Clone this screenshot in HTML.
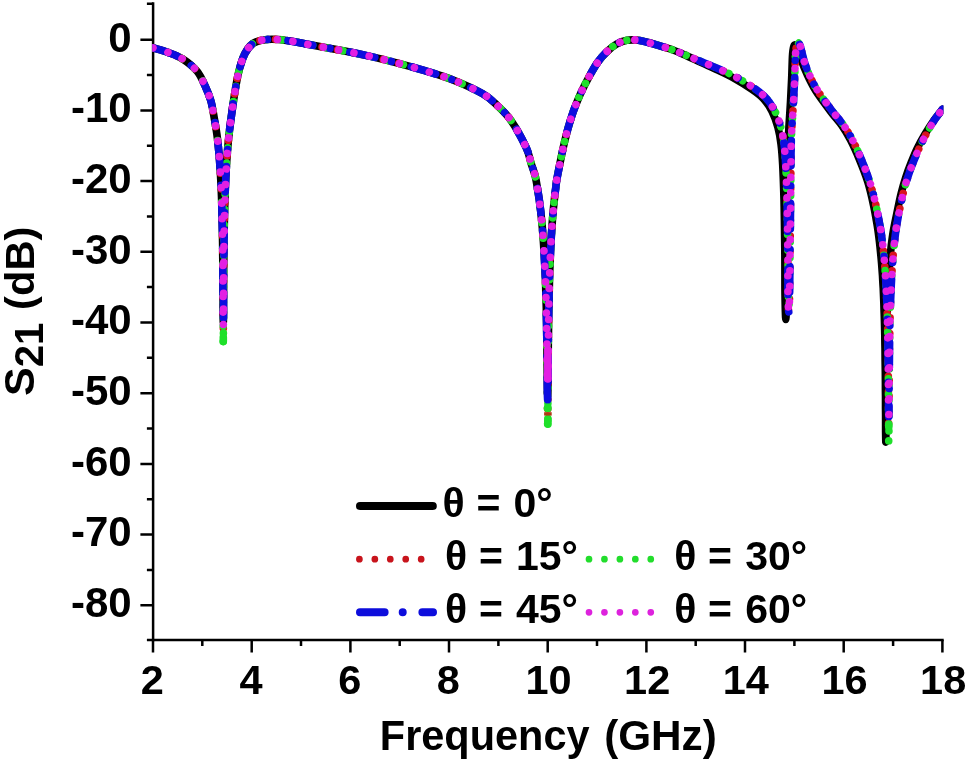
<!DOCTYPE html>
<html lang="en"><head><meta charset="utf-8"><title>S21 vs Frequency</title>
<style>html,body{margin:0;padding:0;background:#fff}svg{display:block}</style></head>
<body>
<svg width="967" height="762" viewBox="0 0 967 762">
<defs><clipPath id="plot"><rect x="152.2" y="0" width="791.2" height="640"/></clipPath></defs>
<rect width="967" height="762" fill="#fff"/>
<g stroke="#000" stroke-width="2.5" fill="none" stroke-linecap="butt">
<path d="M153.1 2.2V641.2"/>
<path d="M146.9 640H943.7"/>
<path d="M140.4 39.7H153M140.4 110.4H153M140.4 181.1H153M140.4 251.8H153M140.4 322.5H153M140.4 393.2H153M140.4 463.9H153M140.4 534.6H153M140.4 605.3H153M146.9 3.8H153M146.9 75.0H153M146.9 145.8H153M146.9 216.4H153M146.9 287.1H153M146.9 357.8H153M146.9 428.5H153M146.9 499.2H153M146.9 569.9H153M153.0 640V652.5M251.7 640V652.5M350.4 640V652.5M449.0 640V652.5M547.7 640V652.5M646.4 640V652.5M745.0 640V652.5M843.7 640V652.5M942.4 640V652.5M202.3 640V646M301.0 640V646M399.7 640V646M498.4 640V646M597.0 640V646M695.7 640V646M794.4 640V646M893.1 640V646"/>
</g>
<g font-family="'Liberation Sans', Arial, Helvetica, sans-serif" font-weight="700" font-size="41" fill="#000">
<text x="131.6" y="51.5" text-anchor="end" font-size="42">0</text>
<text x="131.6" y="122.2" text-anchor="end" font-size="42">-10</text>
<text x="131.6" y="192.9" text-anchor="end" font-size="42">-20</text>
<text x="131.6" y="263.6" text-anchor="end" font-size="42">-30</text>
<text x="131.6" y="334.3" text-anchor="end" font-size="42">-40</text>
<text x="131.6" y="405.0" text-anchor="end" font-size="42">-50</text>
<text x="131.6" y="475.7" text-anchor="end" font-size="42">-60</text>
<text x="131.6" y="546.4" text-anchor="end" font-size="42">-70</text>
<text x="131.6" y="617.1" text-anchor="end" font-size="42">-80</text>
<text x="152.4" y="693.8" text-anchor="middle" font-size="41.5">2</text>
<text x="251.1" y="693.8" text-anchor="middle" font-size="41.5">4</text>
<text x="349.8" y="693.8" text-anchor="middle" font-size="41.5">6</text>
<text x="448.4" y="693.8" text-anchor="middle" font-size="41.5">8</text>
<text x="548.5" y="693.8" text-anchor="middle" font-size="41.5">10</text>
<text x="647.2" y="693.8" text-anchor="middle" font-size="41.5">12</text>
<text x="745.8" y="693.8" text-anchor="middle" font-size="41.5">14</text>
<text x="844.5" y="693.8" text-anchor="middle" font-size="41.5">16</text>
<text x="943.2" y="693.8" text-anchor="middle" font-size="41.5">18</text>
<text y="750.2" font-size="43"><tspan x="379.8" textLength="209.8" lengthAdjust="spacingAndGlyphs">Frequency</tspan> <tspan x="604.2" textLength="112.6" lengthAdjust="spacingAndGlyphs">(GHz)</tspan></text>
<text transform="translate(34 396) rotate(-90)" font-size="40"><tspan x="0" y="0" font-size="43">S</tspan><tspan x="28.7" y="9">21</tspan> <tspan x="86" y="0" textLength="83.5" lengthAdjust="spacingAndGlyphs">(dB)</tspan></text>
</g>
<g fill="none" stroke-width="7.6" stroke-linejoin="round" stroke-linecap="round" clip-path="url(#plot)">
<path id="c0" d="M153.0 47.9C155.5 48.7 163.2 50.6 168.2 52.5C173.1 54.4 177.9 55.9 182.7 59.0C187.5 62.1 193.4 66.8 197.2 71.4C201.0 76.1 203.3 82.1 205.5 86.9C207.7 91.7 209.3 95.8 210.6 100.0C211.9 104.2 212.1 106.3 213.2 112.0C214.2 117.7 216.1 128.7 216.9 134.4C217.7 140.1 217.9 142.4 218.3 146.4C218.7 150.4 219.1 154.4 219.4 158.4C219.7 162.4 220.0 166.4 220.2 170.4C220.5 174.4 220.7 178.4 220.9 182.4C221.1 186.4 221.3 190.4 221.4 194.4C221.6 198.4 221.7 202.4 221.8 206.4C221.9 210.4 222.1 214.4 222.1 218.4C222.2 222.4 222.3 226.4 222.4 230.4C222.5 234.4 222.5 238.4 222.6 242.4C222.7 246.4 222.7 250.4 222.7 254.4C222.8 258.4 222.8 262.4 222.9 266.4C222.9 270.4 222.9 274.4 223.0 278.4C223.0 282.4 223.0 286.4 223.0 290.4C223.1 294.4 223.1 298.4 223.1 302.4C223.1 306.4 223.1 311.1 223.1 314.4C223.2 317.7 223.2 321.7 223.3 322.0C223.4 322.3 223.4 319.1 223.5 316.1C223.5 313.1 223.5 308.1 223.5 304.1C223.5 300.1 223.6 296.1 223.6 292.1C223.6 288.1 223.6 284.1 223.6 280.1C223.7 276.1 223.7 272.1 223.7 268.1C223.8 264.1 223.8 260.1 223.9 256.1C223.9 252.1 223.9 248.1 224.0 244.1C224.0 240.1 224.1 236.1 224.2 232.1C224.2 228.1 224.3 224.1 224.4 220.1C224.5 216.1 224.6 212.1 224.7 208.1C224.8 204.1 224.9 200.1 225.1 196.1C225.2 192.1 225.3 188.1 225.5 184.1C225.7 180.1 225.9 176.1 226.1 172.1C226.3 168.1 226.5 164.1 226.8 160.1C227.1 156.1 227.4 152.1 227.7 148.1C228.1 144.1 228.4 140.1 228.9 136.1C229.3 132.1 229.4 130.9 230.3 124.1C231.2 117.3 233.0 103.7 234.4 95.1C235.8 86.5 236.9 79.3 238.6 72.4C240.3 65.5 242.4 58.6 244.8 53.8C247.2 49.0 249.9 45.7 253.0 43.4C256.1 41.1 259.2 40.5 263.4 39.9C267.6 39.2 272.1 39.1 278.0 39.5C283.9 39.9 293.4 41.5 298.6 42.4C303.8 43.2 302.4 43.4 309.0 44.6C315.6 45.8 328.2 48.0 337.9 49.8C347.5 51.6 357.2 53.5 366.9 55.6C376.5 57.7 386.1 60.1 395.8 62.6C405.5 65.1 415.2 67.8 424.8 70.7C434.4 73.6 444.1 76.4 453.7 80.2C463.3 84.0 475.4 89.6 482.7 93.8C489.9 98.0 492.4 100.8 497.2 105.4C502.0 110.0 506.8 114.3 511.6 121.3C516.4 128.3 522.8 140.3 526.1 147.4C529.4 154.5 529.7 158.8 531.2 163.6C532.7 168.4 534.2 171.9 535.2 176.0C536.2 180.1 536.8 184.0 537.4 188.0C538.1 192.0 538.7 196.0 539.3 200.0C539.8 204.0 540.3 208.0 540.8 212.0C541.2 216.0 541.6 220.0 542.0 224.0C542.4 228.0 542.7 232.0 543.0 236.0C543.3 240.0 543.6 244.0 543.8 248.0C544.1 252.0 544.3 256.0 544.5 260.0C544.7 264.0 544.9 268.0 545.1 272.0C545.3 276.0 545.4 280.0 545.6 284.0C545.7 288.0 545.8 292.0 545.9 296.0C546.1 300.0 546.2 304.0 546.3 308.0C546.4 312.0 546.4 316.0 546.5 320.0C546.6 324.0 546.7 328.0 546.7 332.0C546.8 336.0 546.8 340.0 546.9 344.0C547.0 348.0 547.0 352.0 547.0 356.0C547.1 360.0 547.1 364.0 547.2 368.0C547.2 372.0 547.2 375.3 547.3 380.0C547.3 384.7 547.6 395.9 547.7 396.0C547.8 396.1 548.0 385.0 548.0 380.4C548.1 375.8 548.1 372.4 548.1 368.4C548.1 364.4 548.2 360.4 548.2 356.4C548.2 352.4 548.3 348.4 548.3 344.4C548.4 340.4 548.4 336.4 548.5 332.4C548.5 328.4 548.6 324.4 548.6 320.4C548.7 316.4 548.7 312.4 548.8 308.4C548.9 304.4 549.0 300.4 549.1 296.4C549.2 292.4 549.3 288.4 549.4 284.4C549.5 280.4 549.6 276.4 549.7 272.4C549.9 268.4 550.0 264.4 550.2 260.4C550.3 256.4 550.5 252.4 550.7 248.4C550.9 244.4 551.1 240.4 551.3 236.4C551.6 232.4 551.8 228.4 552.1 224.4C552.4 220.4 552.7 216.4 553.1 212.4C553.4 208.4 553.8 204.4 554.3 200.4C554.7 196.4 555.1 192.4 555.7 188.4C556.2 184.4 555.9 184.2 557.4 176.4C558.9 168.6 562.2 151.7 564.6 141.6C567.0 131.5 569.2 123.6 571.9 115.6C574.5 107.6 577.6 100.3 580.5 93.8C583.4 87.3 586.3 81.8 589.2 76.5C592.1 71.2 595.0 66.1 597.9 62.0C600.8 57.9 603.5 54.9 606.6 51.9C609.7 48.9 613.3 45.9 616.7 44.0C620.1 42.1 623.3 40.9 626.9 40.3C630.5 39.7 633.6 39.6 638.4 40.3C643.2 41.0 650.5 43.1 655.8 44.6C661.1 46.1 665.5 47.3 670.3 49.0C675.1 50.7 679.4 52.6 684.6 54.8C689.7 57.1 695.7 60.0 701.3 62.5C706.8 65.1 712.2 67.5 717.8 70.2C723.4 72.8 729.1 75.5 734.8 78.7C740.5 81.9 747.2 86.1 752.0 89.4C756.8 92.7 760.1 95.0 763.4 98.6C766.7 102.3 769.6 106.5 772.0 111.3C774.4 116.1 776.4 121.8 777.9 127.3C779.4 132.8 780.2 137.7 781.0 144.0C781.8 150.3 782.2 155.7 782.7 165.0C783.2 174.3 783.6 185.8 784.0 200.0C784.4 214.2 784.6 234.2 784.8 250.0C785.0 265.8 784.8 283.4 785.0 295.0C785.2 306.6 785.5 319.5 785.8 319.5C786.1 319.5 786.4 306.6 786.6 295.0C786.8 283.4 786.9 265.8 787.1 250.0C787.3 234.2 787.5 215.0 787.6 200.0C787.8 185.0 787.9 170.8 788.0 160.0C788.1 149.2 788.1 145.5 788.5 135.5C788.9 125.5 790.1 110.1 790.6 100.0C791.1 89.9 791.5 82.7 791.8 75.0C792.1 67.3 792.2 58.9 792.6 54.0C793.0 49.1 793.5 46.7 794.2 45.4C794.9 44.1 795.9 45.3 796.7 46.4C797.5 47.5 798.0 49.5 798.8 52.0C799.7 54.5 800.5 57.9 801.8 61.5C803.1 65.1 804.4 68.6 806.7 73.5C809.0 78.4 811.8 84.5 815.7 90.7C819.6 96.9 825.9 105.1 830.2 110.9C834.5 116.7 838.3 120.5 841.7 125.3C845.1 130.1 847.5 134.3 850.4 139.8C853.3 145.3 856.1 151.5 859.0 158.5C861.9 165.5 865.3 173.9 867.7 181.6C870.1 189.3 871.8 197.0 873.4 204.7C875.1 212.4 876.6 222.0 877.6 227.8C878.5 233.7 878.7 235.8 879.2 239.8C879.7 243.8 880.1 247.8 880.5 251.8C880.9 255.8 881.3 259.8 881.6 263.8C881.9 267.8 882.2 271.8 882.5 275.8C882.7 279.8 882.9 283.8 883.2 287.8C883.4 291.8 883.5 295.8 883.7 299.8C883.9 303.8 884.0 307.8 884.1 311.8C884.3 315.8 884.4 319.8 884.5 323.8C884.6 327.8 884.7 331.8 884.8 335.8C884.8 339.8 884.9 343.8 885.0 347.8C885.0 351.8 885.1 355.8 885.1 359.8C885.2 363.8 885.2 367.8 885.3 371.8C885.3 375.8 885.4 379.8 885.4 383.8C885.4 387.8 885.4 391.8 885.5 395.8C885.5 399.8 885.5 403.8 885.5 407.8C885.6 411.8 885.6 415.8 885.6 419.8C885.6 423.8 885.6 428.1 885.6 431.8C885.7 435.5 885.7 441.6 885.8 442.0C885.9 442.4 885.9 437.3 885.9 434.0C886.0 430.7 886.0 426.0 886.0 422.0C886.0 418.0 886.0 414.0 886.0 410.0C886.0 406.0 886.1 402.0 886.1 398.0C886.1 394.0 886.1 390.0 886.2 386.0C886.2 382.0 886.2 378.0 886.2 374.0C886.3 370.0 886.3 366.0 886.4 362.0C886.4 358.0 886.5 354.0 886.5 350.0C886.6 346.0 886.6 342.0 886.7 338.0C886.8 334.0 886.8 330.0 886.9 326.0C887.0 322.0 887.1 318.0 887.2 314.0C887.3 310.0 887.5 306.0 887.6 302.0C887.7 298.0 887.9 294.0 888.1 290.0C888.2 286.0 888.4 282.0 888.7 278.0C888.9 274.0 889.1 270.0 889.4 266.0C889.7 262.0 890.0 258.0 890.4 254.0C890.8 250.0 891.2 246.0 891.7 242.0C892.3 238.0 892.7 234.5 893.5 230.0C894.3 225.5 895.2 221.1 896.5 215.0C897.8 208.9 899.6 199.5 901.2 193.2C902.8 186.8 904.2 182.0 905.9 176.9C907.5 171.8 909.2 167.4 911.1 162.7C913.0 158.0 914.8 153.3 917.1 148.6C919.4 143.9 922.0 139.1 924.8 134.4C927.7 129.7 931.1 124.4 934.0 120.2C937.0 116.0 941.2 111.0 942.6 109.2" stroke="#000"/>
<path id="c15" d="M153.0 47.9C155.5 48.7 163.2 50.6 168.2 52.5C173.1 54.4 177.9 55.9 182.7 59.0C187.5 62.1 193.4 66.8 197.2 71.4C201.0 76.1 203.3 82.1 205.5 86.9C207.7 91.7 209.3 95.8 210.6 100.0C211.9 104.2 212.1 106.3 213.2 112.0C214.2 117.7 216.1 128.7 216.9 134.4C217.7 140.1 217.9 142.4 218.3 146.4C218.7 150.4 219.1 154.4 219.4 158.4C219.7 162.4 220.0 166.4 220.2 170.4C220.5 174.4 220.7 178.4 220.9 182.4C221.1 186.4 221.3 190.4 221.4 194.4C221.6 198.4 221.7 202.4 221.8 206.4C221.9 210.4 222.1 214.4 222.1 218.4C222.2 222.4 222.3 226.4 222.4 230.4C222.5 234.4 222.5 238.4 222.6 242.4C222.7 246.4 222.7 250.4 222.7 254.4C222.8 258.4 222.8 262.4 222.9 266.4C222.9 270.4 222.9 274.4 223.0 278.4C223.0 282.4 223.0 286.4 223.0 290.4C223.1 294.4 223.1 298.4 223.1 302.4C223.1 306.4 223.1 310.0 223.1 314.4C223.2 318.8 223.2 328.7 223.3 329.0C223.4 329.3 223.4 320.2 223.5 316.1C223.5 312.0 223.5 308.1 223.5 304.1C223.5 300.1 223.6 296.1 223.6 292.1C223.6 288.1 223.6 284.1 223.6 280.1C223.7 276.1 223.7 272.1 223.7 268.1C223.8 264.1 223.8 260.1 223.9 256.1C223.9 252.1 223.9 248.1 224.0 244.1C224.0 240.1 224.1 236.1 224.2 232.1C224.2 228.1 224.3 224.1 224.4 220.1C224.5 216.1 224.6 212.1 224.7 208.1C224.8 204.1 224.9 200.1 225.1 196.1C225.2 192.1 225.3 188.1 225.5 184.1C225.7 180.1 225.9 176.1 226.1 172.1C226.3 168.1 226.5 164.1 226.8 160.1C227.1 156.1 227.4 152.1 227.7 148.1C228.1 144.1 228.4 140.1 228.9 136.1C229.3 132.1 229.4 130.9 230.3 124.1C231.2 117.3 233.0 103.7 234.4 95.1C235.8 86.5 236.9 79.3 238.6 72.4C240.3 65.5 242.4 58.6 244.8 53.8C247.2 49.0 249.9 45.7 253.0 43.4C256.1 41.1 259.2 40.5 263.4 39.9C267.6 39.2 272.1 39.1 278.0 39.5C283.9 39.9 293.4 41.5 298.6 42.4C303.8 43.2 302.4 43.4 309.0 44.6C315.6 45.8 328.2 48.0 337.9 49.8C347.5 51.6 357.2 53.5 366.9 55.6C376.5 57.7 386.1 60.1 395.8 62.6C405.5 65.1 415.2 67.8 424.8 70.7C434.4 73.6 444.1 76.4 453.7 80.2C463.3 84.0 475.4 89.6 482.7 93.8C489.9 98.0 492.4 100.8 497.2 105.4C502.0 110.0 506.8 114.3 511.6 121.3C516.4 128.3 522.8 140.3 526.1 147.4C529.4 154.5 529.7 158.8 531.2 163.6C532.7 168.4 534.2 171.9 535.2 176.0C536.2 180.1 536.8 184.0 537.4 188.0C538.1 192.0 538.7 196.0 539.3 200.0C539.8 204.0 540.3 208.0 540.8 212.0C541.2 216.0 541.6 220.0 542.0 224.0C542.4 228.0 542.7 232.0 543.0 236.0C543.3 240.0 543.6 244.0 543.8 248.0C544.1 252.0 544.3 256.0 544.5 260.0C544.7 264.0 544.9 268.0 545.1 272.0C545.3 276.0 545.4 280.0 545.6 284.0C545.7 288.0 545.8 292.0 545.9 296.0C546.1 300.0 546.2 304.0 546.3 308.0C546.4 312.0 546.4 316.0 546.5 320.0C546.6 324.0 546.7 328.0 546.7 332.0C546.8 336.0 546.8 340.0 546.9 344.0C547.0 348.0 547.0 352.0 547.0 356.0C547.1 360.0 547.1 364.0 547.2 368.0C547.2 372.0 547.2 376.0 547.3 380.0C547.3 384.0 547.3 388.0 547.3 392.0C547.4 396.0 547.3 400.7 547.4 404.0C547.5 407.3 547.6 411.9 547.7 412.0C547.8 412.1 547.8 404.4 547.8 404.4C547.8 404.4 547.7 412.0 547.7 412.0C547.7 412.0 547.9 407.7 547.9 404.4C548.0 401.1 548.0 396.4 548.0 392.4C548.0 388.4 548.0 384.4 548.0 380.4C548.1 376.4 548.1 372.4 548.1 368.4C548.1 364.4 548.2 360.4 548.2 356.4C548.2 352.4 548.3 348.4 548.3 344.4C548.4 340.4 548.4 336.4 548.5 332.4C548.5 328.4 548.6 324.4 548.6 320.4C548.7 316.4 548.7 312.4 548.8 308.4C548.9 304.4 549.0 300.4 549.1 296.4C549.2 292.4 549.3 288.4 549.4 284.4C549.5 280.4 549.6 276.4 549.7 272.4C549.9 268.4 550.0 264.4 550.2 260.4C550.3 256.4 550.5 252.4 550.7 248.4C550.9 244.4 551.1 240.4 551.3 236.4C551.6 232.4 551.8 228.4 552.1 224.4C552.4 220.4 552.7 216.4 553.1 212.4C553.4 208.4 553.8 204.4 554.3 200.4C554.7 196.4 555.1 192.4 555.7 188.4C556.2 184.4 555.9 184.2 557.4 176.4C558.9 168.6 562.2 151.7 564.6 141.6C567.0 131.5 569.2 123.6 571.9 115.6C574.5 107.6 577.6 100.3 580.5 93.8C583.4 87.3 586.3 81.8 589.2 76.5C592.1 71.2 595.0 66.1 597.9 62.0C600.8 57.9 603.5 54.9 606.6 51.9C609.7 48.9 613.3 45.9 616.7 44.0C620.1 42.1 623.3 40.9 626.9 40.3C630.5 39.7 633.6 39.6 638.4 40.3C643.2 41.0 650.5 43.1 655.8 44.6C661.1 46.1 665.5 47.3 670.3 49.0C675.1 50.7 679.5 52.5 684.8 54.7C690.1 56.9 696.4 59.6 702.2 62.0C708.0 64.4 713.7 66.6 719.5 69.2C725.3 71.8 731.1 74.3 736.9 77.5C742.7 80.7 749.4 84.8 754.3 88.3C759.2 91.8 762.8 94.5 766.2 98.3C769.7 102.1 772.5 106.5 775.0 111.3C777.5 116.1 779.4 121.8 780.9 127.3C782.4 132.8 783.2 137.7 784.0 144.0C784.8 150.3 785.2 155.7 785.7 165.0C786.2 174.3 786.6 185.8 787.0 200.0C787.4 214.2 787.6 234.2 787.8 250.0C788.0 265.8 787.8 284.7 788.0 295.0C788.2 305.3 788.5 312.0 788.8 312.0C789.1 312.0 789.4 305.3 789.6 295.0C789.8 284.7 789.9 265.8 790.1 250.0C790.3 234.2 790.5 215.0 790.6 200.0C790.8 185.0 790.9 170.8 791.0 160.0C791.1 149.2 791.1 145.5 791.5 135.5C791.9 125.5 793.1 110.1 793.6 100.0C794.1 89.9 794.5 82.8 794.8 75.0C795.1 67.2 795.2 58.3 795.6 53.0C796.0 47.7 796.5 44.8 797.2 43.4C797.9 42.0 798.9 43.1 799.6 44.4C800.3 45.7 800.8 48.1 801.6 51.0C802.4 53.9 803.1 57.8 804.3 61.5C805.5 65.2 806.6 68.6 808.8 73.5C811.0 78.4 813.8 84.5 817.7 90.7C821.6 96.9 827.9 105.1 832.2 110.9C836.5 116.7 840.3 120.5 843.7 125.3C847.1 130.1 849.5 134.3 852.4 139.8C855.3 145.3 858.1 151.5 861.0 158.5C863.9 165.5 867.2 173.9 869.7 181.6C872.2 189.3 874.0 197.0 875.8 204.7C877.6 212.4 879.3 222.0 880.4 227.8C881.5 233.7 881.6 235.8 882.1 239.8C882.7 243.8 883.1 247.8 883.5 251.8C883.9 255.8 884.3 259.8 884.6 263.8C884.9 267.8 885.2 271.8 885.5 275.8C885.7 279.8 885.9 283.8 886.2 287.8C886.4 291.8 886.5 295.8 886.7 299.8C886.9 303.8 887.0 307.8 887.1 311.8C887.3 315.8 887.4 319.8 887.5 323.8C887.6 327.8 887.7 331.8 887.8 335.8C887.8 339.8 887.9 343.8 888.0 347.8C888.0 351.8 888.1 355.8 888.1 359.8C888.2 363.8 888.2 367.8 888.3 371.8C888.3 375.8 888.4 379.8 888.4 383.8C888.4 387.8 888.4 391.8 888.5 395.8C888.5 399.8 888.5 403.8 888.5 407.8C888.6 411.8 888.5 416.9 888.6 419.8C888.6 422.7 888.7 426.6 888.8 425.0C888.9 423.4 889.0 414.5 889.0 410.0C889.1 405.5 889.1 402.0 889.1 398.0C889.1 394.0 889.1 390.0 889.2 386.0C889.2 382.0 889.2 378.0 889.2 374.0C889.3 370.0 889.3 366.0 889.4 362.0C889.4 358.0 889.5 354.0 889.5 350.0C889.6 346.0 889.6 342.0 889.7 338.0C889.8 334.0 889.8 330.0 889.9 326.0C890.0 322.0 890.1 318.0 890.2 314.0C890.3 310.0 890.5 306.0 890.6 302.0C890.7 298.0 890.9 294.0 891.1 290.0C891.2 286.0 891.4 282.0 891.7 278.0C891.9 274.0 892.1 270.0 892.4 266.0C892.7 262.0 893.0 258.0 893.3 254.0C893.7 250.0 894.1 246.0 894.5 242.0C895.0 238.0 895.3 234.5 896.0 230.0C896.7 225.5 897.4 221.1 898.6 215.0C899.8 208.9 901.7 199.5 903.2 193.2C904.8 186.8 906.2 182.0 907.9 176.9C909.5 171.8 911.2 167.4 913.1 162.7C915.0 158.0 916.8 153.3 919.0 148.6C921.2 143.9 923.5 139.1 926.1 134.4C928.7 129.7 931.6 124.4 934.4 120.2C937.1 116.0 941.2 111.0 942.6 109.2" stroke="#d8141e" stroke-dasharray="0.01 15.648"/>
<path id="c30" d="M153.0 47.9C155.5 48.7 163.2 50.6 168.2 52.5C173.1 54.4 177.9 55.9 182.7 59.0C187.5 62.1 193.4 66.8 197.2 71.4C201.0 76.1 203.3 82.1 205.5 86.9C207.7 91.7 209.3 95.8 210.6 100.0C211.9 104.2 212.1 106.3 213.2 112.0C214.2 117.7 216.1 128.7 216.9 134.4C217.7 140.1 217.9 142.4 218.3 146.4C218.7 150.4 219.1 154.4 219.4 158.4C219.7 162.4 220.0 166.4 220.2 170.4C220.5 174.4 220.7 178.4 220.9 182.4C221.1 186.4 221.3 190.4 221.4 194.4C221.6 198.4 221.7 202.4 221.8 206.4C221.9 210.4 222.1 214.4 222.1 218.4C222.2 222.4 222.3 226.4 222.4 230.4C222.5 234.4 222.5 238.4 222.6 242.4C222.7 246.4 222.7 250.4 222.7 254.4C222.8 258.4 222.8 262.4 222.9 266.4C222.9 270.4 222.9 274.4 223.0 278.4C223.0 282.4 223.0 286.4 223.0 290.4C223.1 294.4 223.1 298.4 223.1 302.4C223.1 306.4 223.1 310.4 223.1 314.4C223.2 318.4 223.2 322.4 223.2 326.4C223.2 330.4 223.2 335.3 223.2 338.4C223.2 341.5 223.3 344.7 223.3 345.0C223.3 345.3 223.4 342.9 223.4 340.1C223.4 337.3 223.4 332.1 223.4 328.1C223.4 324.1 223.5 320.1 223.5 316.1C223.5 312.1 223.5 308.1 223.5 304.1C223.5 300.1 223.6 296.1 223.6 292.1C223.6 288.1 223.6 284.1 223.6 280.1C223.7 276.1 223.7 272.1 223.7 268.1C223.8 264.1 223.8 260.1 223.9 256.1C223.9 252.1 223.9 248.1 224.0 244.1C224.0 240.1 224.1 236.1 224.2 232.1C224.2 228.1 224.3 224.1 224.4 220.1C224.5 216.1 224.6 212.1 224.7 208.1C224.8 204.1 224.9 200.1 225.1 196.1C225.2 192.1 225.3 188.1 225.5 184.1C225.7 180.1 225.9 176.1 226.1 172.1C226.3 168.1 226.5 164.1 226.8 160.1C227.1 156.1 227.4 152.1 227.7 148.1C228.1 144.1 228.4 140.1 228.9 136.1C229.3 132.1 229.4 130.9 230.3 124.1C231.2 117.3 233.0 103.7 234.4 95.1C235.8 86.5 236.9 79.3 238.6 72.4C240.3 65.5 242.4 58.6 244.8 53.8C247.2 49.0 249.9 45.7 253.0 43.4C256.1 41.1 259.2 40.5 263.4 39.9C267.6 39.2 272.1 39.1 278.0 39.5C283.9 39.9 293.4 41.5 298.6 42.4C303.8 43.2 302.4 43.4 309.0 44.6C315.6 45.8 328.2 48.0 337.9 49.8C347.5 51.6 357.2 53.5 366.9 55.6C376.5 57.7 386.1 60.1 395.8 62.6C405.5 65.1 415.2 67.8 424.8 70.7C434.4 73.6 444.1 76.4 453.7 80.2C463.3 84.0 475.4 89.6 482.7 93.8C489.9 98.0 492.4 100.8 497.2 105.4C502.0 110.0 506.8 114.3 511.6 121.3C516.4 128.3 522.8 140.3 526.1 147.4C529.4 154.5 529.7 158.8 531.2 163.6C532.7 168.4 534.2 171.9 535.2 176.0C536.2 180.1 536.8 184.0 537.4 188.0C538.1 192.0 538.7 196.0 539.3 200.0C539.8 204.0 540.3 208.0 540.8 212.0C541.2 216.0 541.6 220.0 542.0 224.0C542.4 228.0 542.7 232.0 543.0 236.0C543.3 240.0 543.6 244.0 543.8 248.0C544.1 252.0 544.3 256.0 544.5 260.0C544.7 264.0 544.9 268.0 545.1 272.0C545.3 276.0 545.4 280.0 545.6 284.0C545.7 288.0 545.8 292.0 545.9 296.0C546.1 300.0 546.2 304.0 546.3 308.0C546.4 312.0 546.4 316.0 546.5 320.0C546.6 324.0 546.7 328.0 546.7 332.0C546.8 336.0 546.8 340.0 546.9 344.0C547.0 348.0 547.0 352.0 547.0 356.0C547.1 360.0 547.1 364.0 547.2 368.0C547.2 372.0 547.2 376.0 547.3 380.0C547.3 384.0 547.3 388.0 547.3 392.0C547.4 396.0 547.4 400.0 547.4 404.0C547.4 408.0 547.4 412.1 547.5 416.0C547.5 419.9 547.7 427.1 547.7 427.5C547.7 427.9 547.8 418.3 547.8 418.3C547.8 418.3 547.7 427.8 547.7 427.5C547.7 427.2 547.9 420.2 547.9 416.4C547.9 412.5 547.9 408.4 547.9 404.4C547.9 400.4 548.0 396.4 548.0 392.4C548.0 388.4 548.0 384.4 548.0 380.4C548.1 376.4 548.1 372.4 548.1 368.4C548.1 364.4 548.2 360.4 548.2 356.4C548.2 352.4 548.3 348.4 548.3 344.4C548.4 340.4 548.4 336.4 548.5 332.4C548.5 328.4 548.6 324.4 548.6 320.4C548.7 316.4 548.7 312.4 548.8 308.4C548.9 304.4 549.0 300.4 549.1 296.4C549.2 292.4 549.3 288.4 549.4 284.4C549.5 280.4 549.6 276.4 549.7 272.4C549.9 268.4 550.0 264.4 550.2 260.4C550.3 256.4 550.5 252.4 550.7 248.4C550.9 244.4 551.1 240.4 551.3 236.4C551.6 232.4 551.8 228.4 552.1 224.4C552.4 220.4 552.7 216.4 553.1 212.4C553.4 208.4 553.8 204.4 554.3 200.4C554.7 196.4 555.1 192.4 555.7 188.4C556.2 184.4 555.9 184.2 557.4 176.4C558.9 168.6 562.2 151.7 564.6 141.6C567.0 131.5 569.2 123.6 571.9 115.6C574.5 107.6 577.6 100.3 580.5 93.8C583.4 87.3 586.3 81.8 589.2 76.5C592.1 71.2 595.0 66.1 597.9 62.0C600.8 57.9 603.5 54.9 606.6 51.9C609.7 48.9 613.3 45.9 616.7 44.0C620.1 42.1 623.3 40.9 626.9 40.3C630.5 39.7 633.6 39.6 638.4 40.3C643.2 41.0 650.5 43.1 655.8 44.6C661.1 46.1 665.5 47.3 670.3 49.0C675.1 50.7 679.5 52.5 684.8 54.7C690.1 56.9 696.4 59.6 702.2 62.0C708.0 64.4 713.7 66.6 719.5 69.2C725.3 71.8 731.1 74.3 736.9 77.5C742.7 80.7 749.4 84.8 754.3 88.3C759.2 91.8 762.8 94.5 766.2 98.3C769.7 102.1 772.5 106.5 775.0 111.3C777.5 116.1 779.4 121.8 780.9 127.3C782.4 132.8 783.2 137.7 784.0 144.0C784.8 150.3 785.2 155.7 785.7 165.0C786.2 174.3 786.6 185.8 787.0 200.0C787.4 214.2 787.5 232.0 787.8 250.0C788.1 268.0 788.4 308.0 788.8 308.0C789.2 308.0 789.8 268.0 790.1 250.0C790.4 232.0 790.5 215.0 790.6 200.0C790.8 185.0 790.9 170.8 791.0 160.0C791.1 149.2 791.1 145.5 791.5 135.5C791.9 125.5 793.1 110.1 793.6 100.0C794.1 89.9 794.5 82.8 794.8 75.0C795.1 67.2 795.2 58.3 795.6 53.0C796.0 47.7 796.5 44.8 797.2 43.4C797.9 42.0 798.9 43.1 799.6 44.4C800.3 45.7 800.8 48.1 801.6 51.0C802.4 53.9 803.1 57.8 804.3 61.5C805.5 65.2 806.6 68.6 808.8 73.5C811.0 78.4 813.8 84.5 817.7 90.7C821.6 96.9 827.9 105.1 832.2 110.9C836.5 116.7 840.3 120.5 843.7 125.3C847.1 130.1 849.5 134.3 852.4 139.8C855.3 145.3 858.1 151.5 861.0 158.5C863.9 165.5 867.2 173.9 869.7 181.6C872.2 189.3 874.0 197.0 875.8 204.7C877.6 212.4 879.3 222.0 880.4 227.8C881.5 233.7 881.6 235.8 882.1 239.8C882.7 243.8 883.1 247.8 883.5 251.8C883.9 255.8 884.3 259.8 884.6 263.8C884.9 267.8 885.2 271.8 885.5 275.8C885.7 279.8 885.9 283.8 886.2 287.8C886.4 291.8 886.5 295.8 886.7 299.8C886.9 303.8 887.0 307.8 887.1 311.8C887.3 315.8 887.4 319.8 887.5 323.8C887.6 327.8 887.7 331.8 887.8 335.8C887.8 339.8 887.9 343.8 888.0 347.8C888.0 351.8 888.1 355.8 888.1 359.8C888.2 363.8 888.2 367.8 888.3 371.8C888.3 375.8 888.4 379.8 888.4 383.8C888.4 387.8 888.4 391.8 888.5 395.8C888.5 399.8 888.5 403.8 888.5 407.8C888.6 411.8 888.6 415.8 888.6 419.8C888.6 423.8 888.6 427.9 888.6 431.8C888.7 435.8 888.7 443.1 888.8 443.5C888.9 443.9 888.9 437.6 888.9 434.0C889.0 430.4 889.0 426.0 889.0 422.0C889.0 418.0 889.0 414.0 889.0 410.0C889.0 406.0 889.1 402.0 889.1 398.0C889.1 394.0 889.1 390.0 889.2 386.0C889.2 382.0 889.2 378.0 889.2 374.0C889.3 370.0 889.3 366.0 889.4 362.0C889.4 358.0 889.5 354.0 889.5 350.0C889.6 346.0 889.6 342.0 889.7 338.0C889.8 334.0 889.8 330.0 889.9 326.0C890.0 322.0 890.1 318.0 890.2 314.0C890.3 310.0 890.5 306.0 890.6 302.0C890.7 298.0 890.9 294.0 891.1 290.0C891.2 286.0 891.4 282.0 891.7 278.0C891.9 274.0 892.1 270.0 892.4 266.0C892.7 262.0 893.0 258.0 893.3 254.0C893.7 250.0 894.1 246.0 894.5 242.0C895.0 238.0 895.3 234.5 896.0 230.0C896.7 225.5 897.4 221.1 898.6 215.0C899.8 208.9 901.7 199.5 903.2 193.2C904.8 186.8 906.2 182.0 907.9 176.9C909.5 171.8 911.2 167.4 913.1 162.7C915.0 158.0 916.8 153.3 919.0 148.6C921.2 143.9 923.5 139.1 926.1 134.4C928.7 129.7 931.6 124.4 934.4 120.2C937.1 116.0 941.2 111.0 942.6 109.2" stroke="#1fe02a" stroke-dasharray="0.01 15.454"/>
<path id="c45" d="M153.0 47.9C155.5 48.7 163.2 50.6 168.2 52.5C173.1 54.4 177.9 55.9 182.7 59.0C187.5 62.1 193.4 66.8 197.2 71.4C201.0 76.1 203.3 82.1 205.5 86.9C207.7 91.7 209.3 95.8 210.6 100.0C211.9 104.2 212.1 106.3 213.2 112.0C214.2 117.7 216.1 128.7 216.9 134.4C217.7 140.1 217.9 142.4 218.3 146.4C218.7 150.4 219.1 154.4 219.4 158.4C219.7 162.4 220.0 166.4 220.2 170.4C220.5 174.4 220.7 178.4 220.9 182.4C221.1 186.4 221.3 190.4 221.4 194.4C221.6 198.4 221.7 202.4 221.8 206.4C221.9 210.4 222.1 214.4 222.1 218.4C222.2 222.4 222.3 226.4 222.4 230.4C222.5 234.4 222.5 238.4 222.6 242.4C222.7 246.4 222.7 250.4 222.7 254.4C222.8 258.4 222.8 262.4 222.9 266.4C222.9 270.4 222.9 274.4 223.0 278.4C223.0 282.4 223.0 286.4 223.0 290.4C223.1 294.4 223.1 298.4 223.1 302.4C223.1 306.4 223.1 310.6 223.1 314.4C223.2 318.2 223.2 324.7 223.3 325.0C223.4 325.3 223.4 319.6 223.5 316.1C223.5 312.6 223.5 308.1 223.5 304.1C223.5 300.1 223.6 296.1 223.6 292.1C223.6 288.1 223.6 284.1 223.6 280.1C223.7 276.1 223.7 272.1 223.7 268.1C223.8 264.1 223.8 260.1 223.9 256.1C223.9 252.1 223.9 248.1 224.0 244.1C224.0 240.1 224.1 236.1 224.2 232.1C224.2 228.1 224.3 224.1 224.4 220.1C224.5 216.1 224.6 212.1 224.7 208.1C224.8 204.1 224.9 200.1 225.1 196.1C225.2 192.1 225.3 188.1 225.5 184.1C225.7 180.1 225.9 176.1 226.1 172.1C226.3 168.1 226.5 164.1 226.8 160.1C227.1 156.1 227.4 152.1 227.7 148.1C228.1 144.1 228.4 140.1 228.9 136.1C229.3 132.1 229.4 130.9 230.3 124.1C231.2 117.3 233.0 103.7 234.4 95.1C235.8 86.5 236.9 79.3 238.6 72.4C240.3 65.5 242.4 58.6 244.8 53.8C247.2 49.0 249.9 45.7 253.0 43.4C256.1 41.1 259.2 40.5 263.4 39.9C267.6 39.2 272.1 39.1 278.0 39.5C283.9 39.9 293.4 41.5 298.6 42.4C303.8 43.2 302.4 43.4 309.0 44.6C315.6 45.8 328.2 48.0 337.9 49.8C347.5 51.6 357.2 53.5 366.9 55.6C376.5 57.7 386.1 60.1 395.8 62.6C405.5 65.1 415.2 67.8 424.8 70.7C434.4 73.6 444.1 76.4 453.7 80.2C463.3 84.0 475.4 89.6 482.7 93.8C489.9 98.0 492.4 100.8 497.2 105.4C502.0 110.0 506.8 114.3 511.6 121.3C516.4 128.3 522.8 140.3 526.1 147.4C529.4 154.5 529.7 158.8 531.2 163.6C532.7 168.4 534.2 171.9 535.2 176.0C536.2 180.1 536.8 184.0 537.4 188.0C538.1 192.0 538.7 196.0 539.3 200.0C539.8 204.0 540.3 208.0 540.8 212.0C541.2 216.0 541.6 220.0 542.0 224.0C542.4 228.0 542.7 232.0 543.0 236.0C543.3 240.0 543.6 244.0 543.8 248.0C544.1 252.0 544.3 256.0 544.5 260.0C544.7 264.0 544.9 268.0 545.1 272.0C545.3 276.0 545.4 280.0 545.6 284.0C545.7 288.0 545.8 292.0 545.9 296.0C546.1 300.0 546.2 304.0 546.3 308.0C546.4 312.0 546.4 316.0 546.5 320.0C546.6 324.0 546.7 328.0 546.7 332.0C546.8 336.0 546.8 340.0 546.9 344.0C547.0 348.0 547.0 352.0 547.0 356.0C547.1 360.0 547.1 364.0 547.2 368.0C547.2 372.0 547.2 376.0 547.3 380.0C547.3 384.0 547.3 388.7 547.3 392.0C547.4 395.3 547.6 400.5 547.7 400.0C547.8 399.5 547.8 388.8 547.8 388.8C547.8 388.8 547.7 399.4 547.7 400.0C547.7 400.6 547.9 395.7 548.0 392.4C548.0 389.1 548.0 384.4 548.0 380.4C548.1 376.4 548.1 372.4 548.1 368.4C548.1 364.4 548.2 360.4 548.2 356.4C548.2 352.4 548.3 348.4 548.3 344.4C548.4 340.4 548.4 336.4 548.5 332.4C548.5 328.4 548.6 324.4 548.6 320.4C548.7 316.4 548.7 312.4 548.8 308.4C548.9 304.4 549.0 300.4 549.1 296.4C549.2 292.4 549.3 288.4 549.4 284.4C549.5 280.4 549.6 276.4 549.7 272.4C549.9 268.4 550.0 264.4 550.2 260.4C550.3 256.4 550.5 252.4 550.7 248.4C550.9 244.4 551.1 240.4 551.3 236.4C551.6 232.4 551.8 228.4 552.1 224.4C552.4 220.4 552.7 216.4 553.1 212.4C553.4 208.4 553.8 204.4 554.3 200.4C554.7 196.4 555.1 192.4 555.7 188.4C556.2 184.4 555.9 184.2 557.4 176.4C558.9 168.6 562.2 151.7 564.6 141.6C567.0 131.5 569.2 123.6 571.9 115.6C574.5 107.6 577.6 100.3 580.5 93.8C583.4 87.3 586.3 81.8 589.2 76.5C592.1 71.2 595.0 66.1 597.9 62.0C600.8 57.9 603.5 54.9 606.6 51.9C609.7 48.9 613.3 45.9 616.7 44.0C620.1 42.1 623.3 40.9 626.9 40.3C630.5 39.7 633.6 39.6 638.4 40.3C643.2 41.0 650.5 43.1 655.8 44.6C661.1 46.1 665.5 47.3 670.3 49.0C675.1 50.7 679.5 52.5 684.8 54.7C690.1 56.9 696.4 59.6 702.2 62.0C708.0 64.4 713.7 66.6 719.5 69.2C725.3 71.8 731.1 74.3 736.9 77.5C742.7 80.7 749.4 84.8 754.3 88.3C759.2 91.8 762.8 94.5 766.2 98.3C769.7 102.1 772.5 106.5 775.0 111.3C777.5 116.1 779.4 121.8 780.9 127.3C782.4 132.8 783.2 137.7 784.0 144.0C784.8 150.3 785.2 155.7 785.7 165.0C786.2 174.3 786.6 185.8 787.0 200.0C787.4 214.2 787.6 234.2 787.8 250.0C788.0 265.8 787.8 284.7 788.0 295.0C788.2 305.3 788.5 312.0 788.8 312.0C789.1 312.0 789.4 305.3 789.6 295.0C789.8 284.7 789.9 265.8 790.1 250.0C790.3 234.2 790.5 215.0 790.6 200.0C790.8 185.0 790.9 170.8 791.0 160.0C791.1 149.2 791.1 145.5 791.5 135.5C791.9 125.5 793.1 110.1 793.6 100.0C794.1 89.9 794.5 82.8 794.8 75.0C795.1 67.2 795.2 58.3 795.6 53.0C796.0 47.7 796.5 44.8 797.2 43.4C797.9 42.0 798.9 43.1 799.6 44.4C800.3 45.7 800.8 48.1 801.6 51.0C802.4 53.9 803.1 57.8 804.3 61.5C805.5 65.2 806.6 68.6 808.8 73.5C811.0 78.4 813.8 84.5 817.7 90.7C821.6 96.9 827.9 105.1 832.2 110.9C836.5 116.7 840.3 120.5 843.7 125.3C847.1 130.1 849.5 134.3 852.4 139.8C855.3 145.3 858.1 151.5 861.0 158.5C863.9 165.5 867.2 173.9 869.7 181.6C872.2 189.3 874.0 197.0 875.8 204.7C877.6 212.4 879.3 222.0 880.4 227.8C881.5 233.7 881.6 235.8 882.1 239.8C882.7 243.8 883.1 247.8 883.5 251.8C883.9 255.8 884.3 259.8 884.6 263.8C884.9 267.8 885.2 271.8 885.5 275.8C885.7 279.8 885.9 283.8 886.2 287.8C886.4 291.8 886.5 295.8 886.7 299.8C886.9 303.8 887.0 307.8 887.1 311.8C887.3 315.8 887.4 319.8 887.5 323.8C887.6 327.8 887.7 331.8 887.8 335.8C887.8 339.8 887.9 343.8 888.0 347.8C888.0 351.8 888.1 355.8 888.1 359.8C888.2 363.8 888.2 367.8 888.3 371.8C888.3 375.8 888.4 379.8 888.4 383.8C888.4 387.8 888.4 391.8 888.5 395.8C888.5 399.8 888.5 404.3 888.5 407.8C888.6 411.3 888.7 416.6 888.8 417.0C888.9 417.4 889.0 413.2 889.0 410.0C889.1 406.8 889.1 402.0 889.1 398.0C889.1 394.0 889.1 390.0 889.2 386.0C889.2 382.0 889.2 378.0 889.2 374.0C889.3 370.0 889.3 366.0 889.4 362.0C889.4 358.0 889.5 354.0 889.5 350.0C889.6 346.0 889.6 342.0 889.7 338.0C889.8 334.0 889.8 330.0 889.9 326.0C890.0 322.0 890.1 318.0 890.2 314.0C890.3 310.0 890.5 306.0 890.6 302.0C890.7 298.0 890.9 294.0 891.1 290.0C891.2 286.0 891.4 282.0 891.7 278.0C891.9 274.0 892.1 270.0 892.4 266.0C892.7 262.0 893.0 258.0 893.3 254.0C893.7 250.0 894.1 246.0 894.5 242.0C895.0 238.0 895.3 234.5 896.0 230.0C896.7 225.5 897.4 221.1 898.6 215.0C899.8 208.9 901.7 199.5 903.2 193.2C904.8 186.8 906.2 182.0 907.9 176.9C909.5 171.8 911.2 167.4 913.1 162.7C915.0 158.0 916.8 153.3 919.0 148.6C921.2 143.9 923.5 139.1 926.1 134.4C928.7 129.7 931.6 124.4 934.4 120.2C937.1 116.0 941.2 111.0 942.6 109.2" stroke="#0d0de0" stroke-dasharray="25.467 17.079 0.01 20.505"/>
<path id="c60" d="M153.0 47.9C155.5 48.7 163.2 50.6 168.2 52.5C173.1 54.4 177.9 55.9 182.7 59.0C187.5 62.1 193.4 66.8 197.2 71.4C201.0 76.1 203.3 82.1 205.5 86.9C207.7 91.7 209.3 95.8 210.6 100.0C211.9 104.2 212.1 106.3 213.2 112.0C214.2 117.7 216.1 128.7 216.9 134.4C217.7 140.1 217.9 142.4 218.3 146.4C218.7 150.4 219.1 154.4 219.4 158.4C219.7 162.4 220.0 166.4 220.2 170.4C220.5 174.4 220.7 178.4 220.9 182.4C221.1 186.4 221.3 190.4 221.4 194.4C221.6 198.4 221.7 202.4 221.8 206.4C221.9 210.4 222.1 214.4 222.1 218.4C222.2 222.4 222.3 226.4 222.4 230.4C222.5 234.4 222.5 238.4 222.6 242.4C222.7 246.4 222.7 250.4 222.7 254.4C222.8 258.4 222.8 262.4 222.9 266.4C222.9 270.4 222.9 274.4 223.0 278.4C223.0 282.4 223.0 286.4 223.0 290.4C223.1 294.4 223.1 298.4 223.1 302.4C223.1 306.4 223.1 310.5 223.1 314.4C223.2 318.3 223.2 325.7 223.3 326.0C223.4 326.3 223.4 319.8 223.5 316.1C223.5 312.5 223.5 308.1 223.5 304.1C223.5 300.1 223.6 296.1 223.6 292.1C223.6 288.1 223.6 284.1 223.6 280.1C223.7 276.1 223.7 272.1 223.7 268.1C223.8 264.1 223.8 260.1 223.9 256.1C223.9 252.1 223.9 248.1 224.0 244.1C224.0 240.1 224.1 236.1 224.2 232.1C224.2 228.1 224.3 224.1 224.4 220.1C224.5 216.1 224.6 212.1 224.7 208.1C224.8 204.1 224.9 200.1 225.1 196.1C225.2 192.1 225.3 188.1 225.5 184.1C225.7 180.1 225.9 176.1 226.1 172.1C226.3 168.1 226.5 164.1 226.8 160.1C227.1 156.1 227.4 152.1 227.7 148.1C228.1 144.1 228.4 140.1 228.9 136.1C229.3 132.1 229.4 130.9 230.3 124.1C231.2 117.3 233.0 103.7 234.4 95.1C235.8 86.5 236.9 79.3 238.6 72.4C240.3 65.5 242.4 58.6 244.8 53.8C247.2 49.0 249.9 45.7 253.0 43.4C256.1 41.1 259.2 40.5 263.4 39.9C267.6 39.2 272.1 39.1 278.0 39.5C283.9 39.9 293.4 41.5 298.6 42.4C303.8 43.2 302.4 43.4 309.0 44.6C315.6 45.8 328.2 48.0 337.9 49.8C347.5 51.6 357.2 53.5 366.9 55.6C376.5 57.7 386.1 60.1 395.8 62.6C405.5 65.1 415.2 67.8 424.8 70.7C434.4 73.6 444.1 76.4 453.7 80.2C463.3 84.0 475.4 89.6 482.7 93.8C489.9 98.0 492.4 100.8 497.2 105.4C502.0 110.0 506.8 114.3 511.6 121.3C516.4 128.3 522.8 140.3 526.1 147.4C529.4 154.5 529.7 158.8 531.2 163.6C532.7 168.4 534.2 171.9 535.2 176.0C536.2 180.1 536.8 184.0 537.4 188.0C538.1 192.0 538.7 196.0 539.3 200.0C539.8 204.0 540.3 208.0 540.8 212.0C541.2 216.0 541.6 220.0 542.0 224.0C542.4 228.0 542.7 232.0 543.0 236.0C543.3 240.0 543.6 244.0 543.8 248.0C544.1 252.0 544.3 256.0 544.5 260.0C544.7 264.0 544.9 268.0 545.1 272.0C545.3 276.0 545.4 280.0 545.6 284.0C545.7 288.0 545.8 292.0 545.9 296.0C546.1 300.0 546.2 304.0 546.3 308.0C546.4 312.0 546.4 316.0 546.5 320.0C546.6 324.0 546.7 328.0 546.7 332.0C546.8 336.0 546.8 340.0 546.9 344.0C547.0 348.0 547.0 352.0 547.0 356.0C547.1 360.0 547.0 364.0 547.2 368.0C547.3 372.0 547.6 379.0 547.7 380.0C547.8 381.0 547.8 373.8 547.8 373.8C547.8 373.8 547.6 380.9 547.7 380.0C547.8 379.1 548.0 372.3 548.1 368.4C548.2 364.5 548.2 360.4 548.2 356.4C548.2 352.4 548.3 348.4 548.3 344.4C548.4 340.4 548.4 336.4 548.5 332.4C548.5 328.4 548.6 324.4 548.6 320.4C548.7 316.4 548.7 312.4 548.8 308.4C548.9 304.4 549.0 300.4 549.1 296.4C549.2 292.4 549.3 288.4 549.4 284.4C549.5 280.4 549.6 276.4 549.7 272.4C549.9 268.4 550.0 264.4 550.2 260.4C550.3 256.4 550.5 252.4 550.7 248.4C550.9 244.4 551.1 240.4 551.3 236.4C551.6 232.4 551.8 228.4 552.1 224.4C552.4 220.4 552.7 216.4 553.1 212.4C553.4 208.4 553.8 204.4 554.3 200.4C554.7 196.4 555.1 192.4 555.7 188.4C556.2 184.4 555.9 184.2 557.4 176.4C558.9 168.6 562.2 151.7 564.6 141.6C567.0 131.5 569.2 123.6 571.9 115.6C574.5 107.6 577.6 100.3 580.5 93.8C583.4 87.3 586.3 81.8 589.2 76.5C592.1 71.2 595.0 66.1 597.9 62.0C600.8 57.9 603.5 54.9 606.6 51.9C609.7 48.9 613.3 45.9 616.7 44.0C620.1 42.1 623.3 40.9 626.9 40.3C630.5 39.7 633.6 39.6 638.4 40.3C643.2 41.0 650.5 43.1 655.8 44.6C661.1 46.1 665.5 47.3 670.3 49.0C675.1 50.7 679.5 52.5 684.8 54.7C690.1 56.9 696.4 59.6 702.2 62.0C708.0 64.4 713.7 66.6 719.5 69.2C725.3 71.8 731.1 74.3 736.9 77.5C742.7 80.7 749.4 84.8 754.3 88.3C759.2 91.8 762.8 94.5 766.2 98.3C769.7 102.1 772.5 106.5 775.0 111.3C777.5 116.1 779.4 121.8 780.9 127.3C782.4 132.8 783.2 137.7 784.0 144.0C784.8 150.3 785.2 155.7 785.7 165.0C786.2 174.3 786.6 185.8 787.0 200.0C787.4 214.2 787.6 234.2 787.8 250.0C788.0 265.8 787.8 284.7 788.0 295.0C788.2 305.3 788.5 312.0 788.8 312.0C789.1 312.0 789.4 305.3 789.6 295.0C789.8 284.7 789.9 265.8 790.1 250.0C790.3 234.2 790.5 215.0 790.6 200.0C790.8 185.0 790.9 170.8 791.0 160.0C791.1 149.2 791.1 145.5 791.5 135.5C791.9 125.5 793.1 110.1 793.6 100.0C794.1 89.9 794.5 82.8 794.8 75.0C795.1 67.2 795.2 58.3 795.6 53.0C796.0 47.7 796.5 44.8 797.2 43.4C797.9 42.0 798.9 43.1 799.6 44.4C800.3 45.7 800.8 48.1 801.6 51.0C802.4 53.9 803.1 57.8 804.3 61.5C805.5 65.2 806.6 68.6 808.8 73.5C811.0 78.4 813.8 84.5 817.7 90.7C821.6 96.9 827.9 105.1 832.2 110.9C836.5 116.7 840.3 120.5 843.7 125.3C847.1 130.1 849.5 134.3 852.4 139.8C855.3 145.3 858.1 151.5 861.0 158.5C863.9 165.5 867.2 173.9 869.7 181.6C872.2 189.3 874.0 197.0 875.8 204.7C877.6 212.4 879.3 222.0 880.4 227.8C881.5 233.7 881.6 235.8 882.1 239.8C882.7 243.8 883.1 247.8 883.5 251.8C883.9 255.8 884.3 259.8 884.6 263.8C884.9 267.8 885.2 271.8 885.5 275.8C885.7 279.8 885.9 283.8 886.2 287.8C886.4 291.8 886.5 295.8 886.7 299.8C886.9 303.8 887.0 307.8 887.1 311.8C887.3 315.8 887.4 319.8 887.5 323.8C887.6 327.8 887.7 331.8 887.8 335.8C887.8 339.8 887.9 343.8 888.0 347.8C888.0 351.8 888.1 355.8 888.1 359.8C888.2 363.8 888.2 367.8 888.3 371.8C888.3 375.8 888.4 379.8 888.4 383.8C888.4 387.8 888.4 391.8 888.5 395.8C888.5 399.8 888.5 404.6 888.5 407.8C888.6 411.0 888.7 414.6 888.8 415.0C888.9 415.4 889.0 412.8 889.0 410.0C889.1 407.2 889.1 402.0 889.1 398.0C889.1 394.0 889.1 390.0 889.2 386.0C889.2 382.0 889.2 378.0 889.2 374.0C889.3 370.0 889.3 366.0 889.4 362.0C889.4 358.0 889.5 354.0 889.5 350.0C889.6 346.0 889.6 342.0 889.7 338.0C889.8 334.0 889.8 330.0 889.9 326.0C890.0 322.0 890.1 318.0 890.2 314.0C890.3 310.0 890.5 306.0 890.6 302.0C890.7 298.0 890.9 294.0 891.1 290.0C891.2 286.0 891.4 282.0 891.7 278.0C891.9 274.0 892.1 270.0 892.4 266.0C892.7 262.0 893.0 258.0 893.3 254.0C893.7 250.0 894.1 246.0 894.5 242.0C895.0 238.0 895.3 234.5 896.0 230.0C896.7 225.5 897.4 221.1 898.6 215.0C899.8 208.9 901.7 199.5 903.2 193.2C904.8 186.8 906.2 182.0 907.9 176.9C909.5 171.8 911.2 167.4 913.1 162.7C915.0 158.0 916.8 153.3 919.0 148.6C921.2 143.9 923.5 139.1 926.1 134.4C928.7 129.7 931.6 124.4 934.4 120.2C937.1 116.0 941.2 111.0 942.6 109.2" stroke="#e31fe3" stroke-dasharray="0.01 15.540"/>
</g>
<g fill="none" stroke-width="7.6" stroke-linecap="round">
<path d="M223.3 337V341.6M547.9 407.2V408.4M547.9 419.6V424.2M888.8 424V427" stroke="#1fe02a"/>
<path d="M547.9 412.2V415.6" stroke="#b03a14" stroke-linecap="butt"/>
<path d="M547.9 350V379" stroke="#e31fe3"/>
</g>
<g fill="none" stroke-width="8" stroke-linecap="round">
<path d="M360 506.1H432.8" stroke="#000"/>
<path d="M359.4 559.2H422" stroke="#c8141c" stroke-dasharray="0.01 15.43" stroke-width="6.7"/>
<path d="M589 559.2H652" stroke="#22dd2c" stroke-dasharray="0.01 15.43" stroke-width="6.7"/>
<path d="M360 612.3H384.6M402.7 612.3h0.01M422.4 612.3H433" stroke="#0d0ddc"/>
<path d="M589 612.3H652" stroke="#dd22dd" stroke-dasharray="0.01 15.43" stroke-width="6.7"/>
</g>
<g font-family="'Liberation Sans', Arial, Helvetica, sans-serif" font-weight="700" font-size="41" fill="#000">
<text y="516.8"><tspan x="442.6">θ</tspan> <tspan x="476.4">=</tspan> <tspan x="513.5">0°</tspan></text>
<text y="569.6"><tspan x="445.1">θ</tspan> <tspan x="478.9">=</tspan> <tspan x="516.0">15°</tspan></text>
<text y="622.6"><tspan x="445.1">θ</tspan> <tspan x="478.9">=</tspan> <tspan x="516.0">45°</tspan></text>
<text y="569.6"><tspan x="674.3">θ</tspan> <tspan x="708.1">=</tspan> <tspan x="745.2">30°</tspan></text>
<text y="622.6"><tspan x="674.3">θ</tspan> <tspan x="708.1">=</tspan> <tspan x="745.2">60°</tspan></text>
</g>
</svg>
</body></html>
